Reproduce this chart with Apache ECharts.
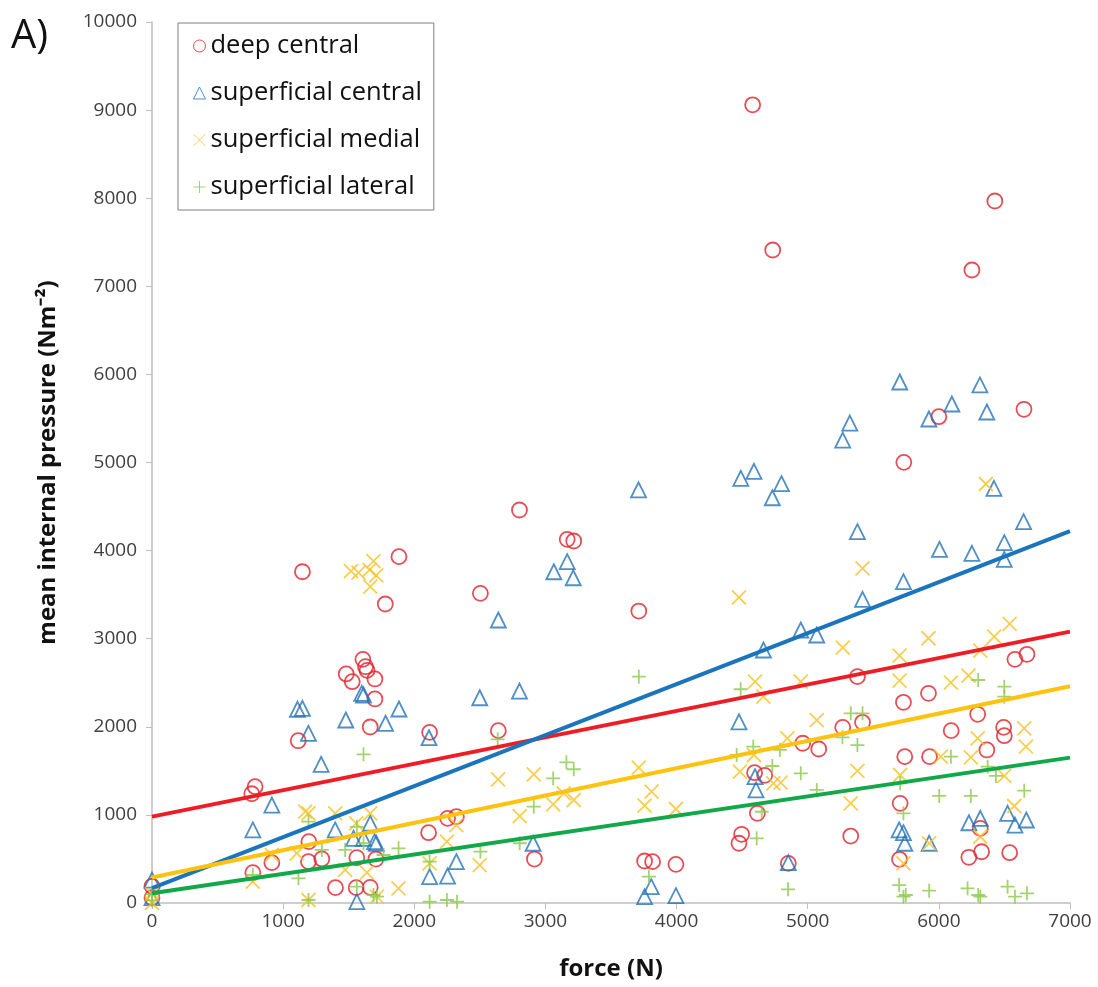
<!DOCTYPE html>
<html><head><meta charset="utf-8">
<script src="https://cdn.jsdelivr.net/npm/echarts@6/dist/echarts.min.js"></script>
<style>html,body{margin:0;padding:0;background:#fff}#c{width:1098px;height:987px}</style>
</head><body><div id="c"></div>
<script>
// ---- data (force N, mean internal pressure Nm^-2) ----
const xTicks = [0, 1000, 2000, 3000, 4000, 5000, 6000, 7000];
const yTicks = [0, 1000, 2000, 3000, 4000, 5000, 6000, 7000, 8000, 9000, 10000];

const deepCentral = [
  [0,60],[0,190],[761,1240],[786,1320],[769,344],[914,458],[1115,1842],[1147,3760],[1196,696],
  [1193,469],[1295,500],[1399,174],[1481,2600],[1527,2512],[1562,514],[1557,174],[1608,2766],
  [1628,2682],[1640,2640],[1664,1998],[1700,2543],[1700,2316],[1664,178],[1707,499],[1779,3394],
  [1883,3931],[2109,798],[2117,1937],[2254,961],[2321,980],[2504,3515],[2641,1956],[2802,4461],
  [2916,499],[3166,4128],[3216,4109],[3712,3314],[3756,477],[3817,469],[3995,439],[4476,678],
  [4496,780],[4580,9060],[4595,1479],[4616,1018],[4672,1449],[4733,7412],[4852,450],[4962,1813],
  [5084,1748],[5267,1994],[5328,760],[5379,2569],[5418,2051],[5700,496],[5705,1131],[5730,2278],
  [5733,5002],[5740,1661],[5921,2380],[5929,1661],[6000,5520],[6094,1956],[6229,519],[6252,7185],
  [6296,2142],[6316,847],[6326,582],[6366,1737],[6427,7968],[6494,1994],[6499,1899],[6540,571],
  [6580,2766],[6649,5604],[6672,2823]
];
const superficialCentral = [
  [0,260],[0,60],[769,829],[914,1112],[1109,2199],[1147,2210],[1193,1926],[1290,1574],[1397,829],
  [1478,2077],[1537,734],[1562,15],[1600,2380],[1613,2361],[1613,734],[1664,905],[1697,696],
  [1710,678],[1781,2040],[1883,2202],[2112,1876],[2117,299],[2254,306],[2321,469],[2499,2330],
  [2641,3212],[2802,2406],[2906,678],[3064,3760],[3166,3874],[3212,3692],[3710,4690],[3756,72],
  [3807,185],[3995,83],[4476,2057],[4490,4820],[4590,4900],[4598,1434],[4606,1283],[4662,2872],
  [4730,4600],[4800,4760],[4852,458],[4947,3099],[5069,3042],[5267,5255],[5321,5448],[5379,4215],
  [5418,3447],[5697,829],[5702,5914],[5730,3647],[5730,798],[5740,678],[5924,5494],[5926,678],
  [6005,4015],[6099,5664],[6229,911],[6252,3969],[6313,5880],[6316,961],[6366,5573],[6420,4707],
  [6499,4090],[6499,3901],[6524,1018],[6580,885],[6646,4328],[6667,942]
];
const superficialMedial = [
  [0,0],[0,100],[769,242],[914,545],[1104,564],[1168,1036],[1193,1018],[1193,34],[1397,1018],
  [1473,375],[1517,3768],[1557,905],[1575,3750],[1639,344],[1659,3780],[1664,3590],[1664,1018],
  [1689,3880],[1710,3720],[1715,72],[1880,167],[2117,450],[2249,696],[2321,885],[2499,431],
  [2639,1404],[2804,987],[2911,1461],[3059,1120],[3140,1245],[3216,1169],[3712,1536],[3756,1104],
  [3809,1263],[3995,1067],[4476,3470],[4483,1490],[4590,1680],[4598,2512],[4662,2342],[4738,1359],
  [4794,1366],[4845,1869],[4947,2512],[5069,2077],[5267,2898],[5328,1131],[5379,1501],[5418,3799],
  [5700,2807],[5700,2523],[5705,1453],[5730,450],[5921,3005],[5926,678],[6015,1661],[6092,2501],
  [6226,2580],[6244,1654],[6296,1869],[6316,2864],[6316,752],[6358,4756],[6422,3023],[6499,1442],
  [6540,3167],[6575,1101],[6651,1983],[6664,1774]
];
const superficialLateral = [
  [0,100],[0,30],[769,318],[1117,280],[1193,923],[1193,34],[1295,602],[1473,602],[1562,865],
  [1562,185],[1613,1688],[1613,678],[1689,91],[1715,72],[1766,545],[1880,621],[2117,469],[2117,15],
  [2249,34],[2326,15],[2504,583],[2636,1858],[2804,678],[2911,1093],[3059,1414],[3160,1597],
  [3216,1518],[3712,2569],[3789,299],[4458,1680],[4489,2426],[4585,1774],[4611,734],[4649,1036],
  [4730,1555],[4788,1737],[4850,155],[4947,1472],[5069,1283],[5265,1880],[5328,2153],[5379,1793],
  [5418,2153],[5697,204],[5705,1359],[5730,72],[5730,1018],[5748,91],[5926,140],[6003,1215],
  [6092,1661],[6219,167],[6244,1215],[6300,2531],[6300,91],[6316,72],[6372,1547],[6435,1442],
  [6499,2455],[6499,2342],[6524,185],[6580,72],[6651,1275],[6672,110]
];
// trend line end points
const deepTrend = [[0,980],[7000,3080]];
const centralTrend = [[0,170],[7000,4220]];
const medialTrend = [[0,290],[7000,2460]];
const lateralTrend = [[0,110],[7000,1650]];

const seriesNames = ['deep central','superficial central','superficial medial','superficial lateral'];

const FONT = 'Open Sans';
const X_PATH = 'path://M0,0L10,10M10,0L0,10';
const PLUS_PATH = 'path://M5,0L5,10M0,5L10,5';

function scatter(name, data, symbol, color, size) {
  return {
    name, type: 'scatter', data, symbol, symbolSize: size, symbolKeepAspect: true,
    itemStyle: { color: 'rgba(0,0,0,0)', borderColor: color, borderWidth: 1.8 },
    emphasis: { disabled: true }, z: 2
  };
}
function trend(name, data, color) {
  return {
    name, type: 'line', data, showSymbol: false, symbol: 'none',
    lineStyle: { color, width: 4 }, z: 5, silent: true
  };
}

const chart = echarts.init(document.getElementById('c'), null, { renderer: 'canvas' });
chart.setOption({
  backgroundColor: '#fff',
  animation: false,
  grid: { left: 152, right: 28, top: 22, bottom: 84 },
  graphic: [{ type: 'text', left: 11, top: 17, style: { text: 'A)', fontSize: 40, fontFamily: FONT, fill: '#111' } }],
  legend: {
    data: seriesNames,
    orient: 'vertical', left: 178, top: 23,
    padding: [9, 12, 9, 15], itemGap: 19, itemWidth: 12, itemHeight: 12,
    borderColor: '#7f7f7f', borderWidth: 1,
    itemStyle: { borderWidth: 1 },
    textStyle: { fontSize: 25.5, fontFamily: FONT, color: '#111', lineHeight: 28 }
  },
  xAxis: {
    type: 'value', min: 0, max: 7000, interval: 1000,
    axisLine: { show: true, lineStyle: { color: '#bfbfbf', width: 1.5 } },
    axisTick: { show: true, length: 6, lineStyle: { color: '#bfbfbf' } },
    axisLabel: { color: '#404040', fontSize: 19, fontFamily: FONT, margin: 9, formatter: v => String(v) },
    splitLine: { show: false },
    name: 'force (N)', nameLocation: 'middle', nameGap: 54,
    nameTextStyle: { fontSize: 24, fontWeight: 'bold', fontFamily: FONT, color: '#111' }
  },
  yAxis: {
    type: 'value', min: 0, max: 10000, interval: 1000,
    axisLine: { show: true, lineStyle: { color: '#bfbfbf', width: 1.5 } },
    axisTick: { show: true, length: 6, lineStyle: { color: '#bfbfbf' } },
    axisLabel: { color: '#404040', fontSize: 19, fontFamily: FONT, margin: 15, formatter: v => String(v) },
    splitLine: { show: false },
    name: 'mean internal pressure (Nm\u207B\u00B2)', nameLocation: 'middle', nameGap: 92,
    nameTextStyle: { fontSize: 24, fontWeight: 'bold', fontFamily: FONT, color: '#111' }
  },
  series: [
    scatter(seriesNames[0], deepCentral, 'circle', '#e0202a', 15),
    scatter(seriesNames[1], superficialCentral, 'triangle', '#2472b8', 15),
    scatter(seriesNames[2], superficialMedial, X_PATH, '#f5c324', 14),
    scatter(seriesNames[3], superficialLateral, PLUS_PATH, '#8cc84b', 14),
    trend('deep central trend', deepTrend, '#ee1c24'),
    trend('superficial central trend', centralTrend, '#1b75bc'),
    trend('superficial medial trend', medialTrend, '#ffc20e'),
    trend('superficial lateral trend', lateralTrend, '#12a84a')
  ]
});
</script></body></html>
